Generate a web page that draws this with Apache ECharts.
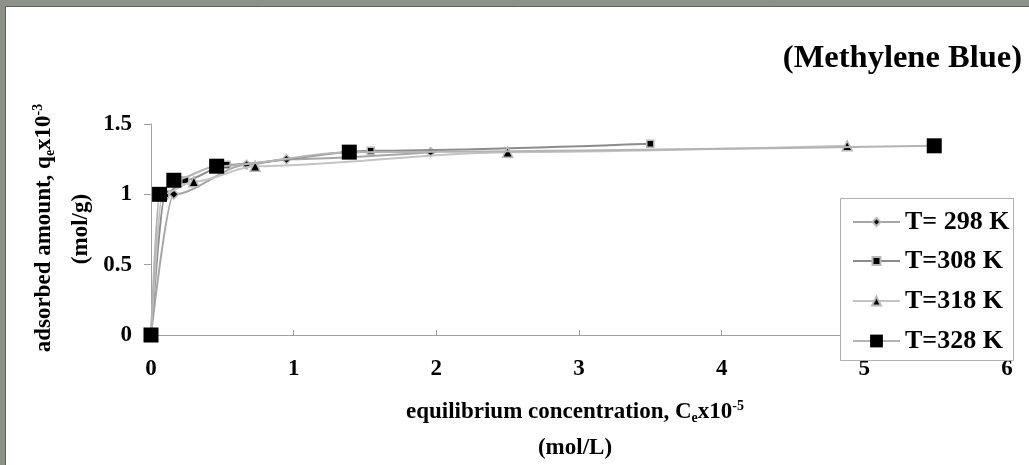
<!DOCTYPE html>
<html><head><meta charset="utf-8">
<script src="https://cdn.jsdelivr.net/npm/echarts@6/dist/echarts.min.js"></script>
<style>html,body{margin:0;padding:0;background:#8c918a;overflow:hidden;} #c{width:1029px;height:465px;}</style>
</head><body><div id="c"></div>
<script>
// ---- data ----
const xTicks = [0, 1, 2, 3, 4, 5, 6];
const yTicks = [0, 0.5, 1, 1.5];
const seriesNames = ['T= 298 K', 'T=308 K', 'T=318 K', 'T=328 K'];
const t298 = [[0, 0], [0.16, 1.0], [0.67, 1.21], [0.95, 1.25], [1.96, 1.30]];
const t308 = [[0, 0], [0.10, 1.0], [0.24, 1.10], [0.53, 1.21], [1.54, 1.31], [3.50, 1.36]];
const t318 = [[0, 0], [0.08, 1.0], [0.30, 1.09], [0.73, 1.20], [2.50, 1.30], [4.88, 1.345]];
const t328 = [[0, 0], [0.06, 1.0], [0.16, 1.10], [0.46, 1.20], [1.39, 1.30], [5.49, 1.345]];
const titleText = '(Methylene Blue)';

// ---- styling ----
const FF = "'Liberation Serif', 'Times New Roman', serif";
const seriesData = [t298, t308, t318, t328];
const symbols = ['diamond', 'rect', 'triangle', 'rect'];
const symbolSizes = [9, 7, 10, 15];
const lineColors = ['#a6a6a6', '#8c8c8c', '#c4c4c4', '#b4b4b4'];
const legendItemHeights = [10, 10, 11, 16];
const legendCenters = [222, 261, 301, 341];

const chart = echarts.init(document.getElementById('c'), null, {renderer: 'canvas'});

const richAxis = {
  t: {fontFamily: FF, fontSize: 23, fontWeight: 'bold', fill: '#000', color: '#000', lineHeight: 30, verticalAlign: 'middle'},
  sub: {fontFamily: FF, fontSize: 14, fontWeight: 'bold', fill: '#000', color: '#000', lineHeight: 30, verticalAlign: 'bottom', padding: [0, 0, 2, 0]},
  sup: {fontFamily: FF, fontSize: 14, fontWeight: 'bold', fill: '#000', color: '#000', lineHeight: 30, verticalAlign: 'top', padding: [2, 0, 0, 0]}
};

const option = {
  backgroundColor: '#8c918a',
  animation: false,
  title: {
    text: titleText, right: 7, top: 42, padding: 0,
    textStyle: {fontFamily: FF, fontSize: 32.5, fontWeight: 'bold', color: '#000'}
  },
  grid: {left: 151, right: 22, top: 124, bottom: 130, containLabel: false},
  xAxis: {
    type: 'value', min: xTicks[0], max: xTicks[xTicks.length - 1], interval: 1,
    axisLine: {lineStyle: {color: '#a0a0a0', width: 1}},
    axisTick: {inside: true, length: 5, lineStyle: {color: '#a0a0a0'}},
    splitLine: {show: false},
    axisLabel: {margin: 23, fontFamily: FF, fontSize: 23, fontWeight: 'bold', color: '#000'}
  },
  yAxis: {
    type: 'value', min: yTicks[0], max: yTicks[yTicks.length - 1], interval: 0.5,
    axisLine: {show: true, lineStyle: {color: '#a0a0a0', width: 1}},
    axisTick: {show: true, inside: false, length: 7, lineStyle: {color: '#a0a0a0'}},
    splitLine: {show: false},
    axisLabel: {margin: 19, fontFamily: FF, fontSize: 23, fontWeight: 'bold', color: '#000'}
  },
  legend: seriesNames.map((n, i) => ({
    data: [n], left: 852, top: legendCenters[i] - 14, orient: 'vertical', padding: 0,
    itemWidth: 47, itemHeight: legendItemHeights[i], selectedMode: false, z: 6,
    textStyle: {fontFamily: FF, fontSize: 26, fontWeight: 'bold', color: '#000', lineHeight: 28}
  })),
  graphic: [
    {type: 'rect', z: -100, silent: true, shape: {x: 5.5, y: 6.5, width: 1040, height: 480},
     style: {fill: '#ffffff', stroke: '#5c605a', lineWidth: 1}},
    {type: 'rect', z: 5, silent: true, shape: {x: 840.5, y: 198.5, width: 173, height: 162},
     style: {fill: '#ffffff', stroke: '#b0b0b0', lineWidth: 1}},
    {type: 'text', x: 44, y: 228, rotation: Math.PI / 2, silent: true,
     style: {text: '{t|adsorbed amount, q}{sub|e}{t|x10}{sup|-3}', rich: richAxis, align: 'center', verticalAlign: 'middle'}},
    {type: 'text', x: 81, y: 229, rotation: Math.PI / 2, silent: true,
     style: {text: '(mol/g)', fontFamily: FF, fontSize: 23, fontWeight: 'bold', fill: '#000', align: 'center', verticalAlign: 'middle'}},
    {type: 'text', x: 575, y: 412, silent: true,
     style: {text: '{t|equilibrium concentration, C}{sub|e}{t|x10}{sup|-5}', rich: richAxis, align: 'center', verticalAlign: 'middle'}},
    {type: 'text', x: 575, y: 448, silent: true,
     style: {text: '(mol/L)', fontFamily: FF, fontSize: 23, fontWeight: 'bold', fill: '#000', align: 'center', verticalAlign: 'middle'}}
  ],
  series: seriesNames.map((n, i) => ({
    name: n, type: 'line', data: seriesData[i], smooth: 0.3, smoothMonotone: 'x',
    symbol: symbols[i], symbolSize: symbolSizes[i], showAllSymbol: true,
    lineStyle: {color: lineColors[i], width: 2},
    itemStyle: {color: '#000', borderColor: i === 3 ? '#000' : '#b8b8b8', borderWidth: i === 3 ? 0 : 1.5},
    z: 2 + i
  }))
};
chart.setOption(option);
</script>
</body></html>
